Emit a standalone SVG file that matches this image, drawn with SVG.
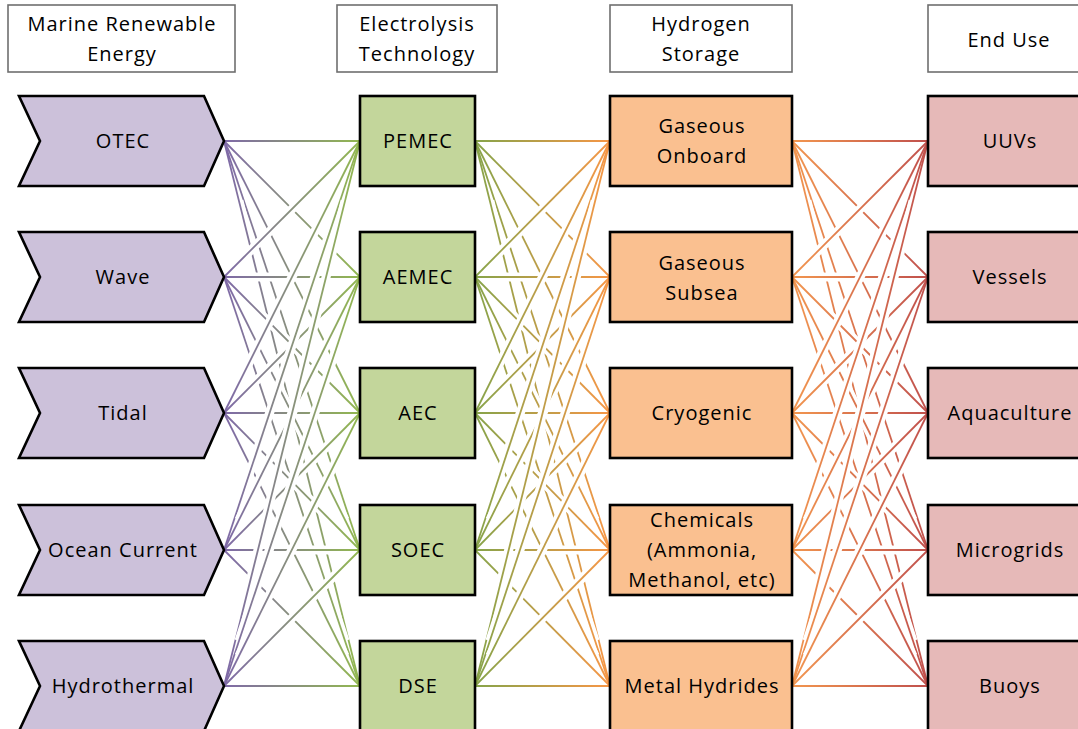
<svg xmlns="http://www.w3.org/2000/svg" width="1078" height="729" viewBox="0 0 1078 729">
<style>
.hdr{fill:#fff;stroke:#6f6f6f;stroke-width:1.6}
.nd{stroke:#000;stroke-width:2.6}
.src{fill:#ccc1da}.ely{fill:#c3d69b}.sto{fill:#fac090}.use{fill:#e6b9b8}
text{font-family:"Open Sans","Liberation Sans",sans-serif;font-size:20px;letter-spacing:1px;fill:#000;text-anchor:middle}
.cn path{fill:none;stroke-width:1.8}
.cn path.h{stroke:#fff;stroke-width:9;stroke-dasharray:0 11 78 11}
</style>
<defs>
<linearGradient id="g1" gradientUnits="userSpaceOnUse" x1="224" y1="0" x2="360" y2="0"><stop offset="0" stop-color="#7f69a8"/><stop offset="1" stop-color="#92b850"/></linearGradient>
<linearGradient id="g2" gradientUnits="userSpaceOnUse" x1="475" y1="0" x2="610" y2="0"><stop offset="0" stop-color="#86a44a"/><stop offset="1" stop-color="#f79646"/></linearGradient>
<linearGradient id="g3" gradientUnits="userSpaceOnUse" x1="792" y1="0" x2="928" y2="0"><stop offset="0" stop-color="#f2964f"/><stop offset="1" stop-color="#c0504d"/></linearGradient>
</defs>

<g id="headers">
<g id="h-mre"><rect class="hdr" x="8" y="5" width="227" height="67"/><text x="122" y="31">Marine Renewable</text><text x="122" y="61">Energy</text></g>
<g id="h-ely"><rect class="hdr" x="337" y="5" width="160" height="67"/><text x="417" y="31">Electrolysis</text><text x="417" y="61">Technology</text></g>
<g id="h-sto"><rect class="hdr" x="610" y="5" width="182" height="67"/><text x="701" y="31">Hydrogen</text><text x="701" y="61">Storage</text></g>
<g id="h-use"><rect class="hdr" x="928" y="5" width="162" height="67"/><text x="1009" y="47">End Use</text></g>
</g>

<g id="connectors" class="cn">
<g id="c-src-ely" stroke="url(#g1)">
<path class="h" pathLength="100" d="M224 141L360 141"/><path d="M224 141L360 141"/>
<path class="h" pathLength="100" d="M224 141L360 277"/><path d="M224 141L360 277"/>
<path class="h" pathLength="100" d="M224 141L360 413"/><path d="M224 141L360 413"/>
<path class="h" pathLength="100" d="M224 141L360 550"/><path d="M224 141L360 550"/>
<path class="h" pathLength="100" d="M224 141L360 686"/><path d="M224 141L360 686"/>
<path class="h" pathLength="100" d="M224 277L360 141"/><path d="M224 277L360 141"/>
<path class="h" pathLength="100" d="M224 277L360 277"/><path d="M224 277L360 277"/>
<path class="h" pathLength="100" d="M224 277L360 413"/><path d="M224 277L360 413"/>
<path class="h" pathLength="100" d="M224 277L360 550"/><path d="M224 277L360 550"/>
<path class="h" pathLength="100" d="M224 277L360 686"/><path d="M224 277L360 686"/>
<path class="h" pathLength="100" d="M224 413L360 141"/><path d="M224 413L360 141"/>
<path class="h" pathLength="100" d="M224 413L360 277"/><path d="M224 413L360 277"/>
<path class="h" pathLength="100" d="M224 413L360 413"/><path d="M224 413L360 413"/>
<path class="h" pathLength="100" d="M224 413L360 550"/><path d="M224 413L360 550"/>
<path class="h" pathLength="100" d="M224 413L360 686"/><path d="M224 413L360 686"/>
<path class="h" pathLength="100" d="M224 550L360 141"/><path d="M224 550L360 141"/>
<path class="h" pathLength="100" d="M224 550L360 277"/><path d="M224 550L360 277"/>
<path class="h" pathLength="100" d="M224 550L360 413"/><path d="M224 550L360 413"/>
<path class="h" pathLength="100" d="M224 550L360 550"/><path d="M224 550L360 550"/>
<path class="h" pathLength="100" d="M224 550L360 686"/><path d="M224 550L360 686"/>
<path class="h" pathLength="100" d="M224 686L360 141"/><path d="M224 686L360 141"/>
<path class="h" pathLength="100" d="M224 686L360 277"/><path d="M224 686L360 277"/>
<path class="h" pathLength="100" d="M224 686L360 413"/><path d="M224 686L360 413"/>
<path class="h" pathLength="100" d="M224 686L360 550"/><path d="M224 686L360 550"/>
<path class="h" pathLength="100" d="M224 686L360 686"/><path d="M224 686L360 686"/>
</g>
<g id="c-ely-sto" stroke="url(#g2)">
<path class="h" pathLength="100" d="M475 141L610 141"/><path d="M475 141L610 141"/>
<path class="h" pathLength="100" d="M475 141L610 277"/><path d="M475 141L610 277"/>
<path class="h" pathLength="100" d="M475 141L610 413"/><path d="M475 141L610 413"/>
<path class="h" pathLength="100" d="M475 141L610 550"/><path d="M475 141L610 550"/>
<path class="h" pathLength="100" d="M475 141L610 686"/><path d="M475 141L610 686"/>
<path class="h" pathLength="100" d="M475 277L610 141"/><path d="M475 277L610 141"/>
<path class="h" pathLength="100" d="M475 277L610 277"/><path d="M475 277L610 277"/>
<path class="h" pathLength="100" d="M475 277L610 413"/><path d="M475 277L610 413"/>
<path class="h" pathLength="100" d="M475 277L610 550"/><path d="M475 277L610 550"/>
<path class="h" pathLength="100" d="M475 277L610 686"/><path d="M475 277L610 686"/>
<path class="h" pathLength="100" d="M475 413L610 141"/><path d="M475 413L610 141"/>
<path class="h" pathLength="100" d="M475 413L610 277"/><path d="M475 413L610 277"/>
<path class="h" pathLength="100" d="M475 413L610 413"/><path d="M475 413L610 413"/>
<path class="h" pathLength="100" d="M475 413L610 550"/><path d="M475 413L610 550"/>
<path class="h" pathLength="100" d="M475 413L610 686"/><path d="M475 413L610 686"/>
<path class="h" pathLength="100" d="M475 550L610 141"/><path d="M475 550L610 141"/>
<path class="h" pathLength="100" d="M475 550L610 277"/><path d="M475 550L610 277"/>
<path class="h" pathLength="100" d="M475 550L610 413"/><path d="M475 550L610 413"/>
<path class="h" pathLength="100" d="M475 550L610 550"/><path d="M475 550L610 550"/>
<path class="h" pathLength="100" d="M475 550L610 686"/><path d="M475 550L610 686"/>
<path class="h" pathLength="100" d="M475 686L610 141"/><path d="M475 686L610 141"/>
<path class="h" pathLength="100" d="M475 686L610 277"/><path d="M475 686L610 277"/>
<path class="h" pathLength="100" d="M475 686L610 413"/><path d="M475 686L610 413"/>
<path class="h" pathLength="100" d="M475 686L610 550"/><path d="M475 686L610 550"/>
<path class="h" pathLength="100" d="M475 686L610 686"/><path d="M475 686L610 686"/>
</g>
<g id="c-sto-use" stroke="url(#g3)">
<path class="h" pathLength="100" d="M792 141L928 141"/><path d="M792 141L928 141"/>
<path class="h" pathLength="100" d="M792 141L928 277"/><path d="M792 141L928 277"/>
<path class="h" pathLength="100" d="M792 141L928 413"/><path d="M792 141L928 413"/>
<path class="h" pathLength="100" d="M792 141L928 550"/><path d="M792 141L928 550"/>
<path class="h" pathLength="100" d="M792 141L928 686"/><path d="M792 141L928 686"/>
<path class="h" pathLength="100" d="M792 277L928 141"/><path d="M792 277L928 141"/>
<path class="h" pathLength="100" d="M792 277L928 277"/><path d="M792 277L928 277"/>
<path class="h" pathLength="100" d="M792 277L928 413"/><path d="M792 277L928 413"/>
<path class="h" pathLength="100" d="M792 277L928 550"/><path d="M792 277L928 550"/>
<path class="h" pathLength="100" d="M792 277L928 686"/><path d="M792 277L928 686"/>
<path class="h" pathLength="100" d="M792 413L928 141"/><path d="M792 413L928 141"/>
<path class="h" pathLength="100" d="M792 413L928 277"/><path d="M792 413L928 277"/>
<path class="h" pathLength="100" d="M792 413L928 413"/><path d="M792 413L928 413"/>
<path class="h" pathLength="100" d="M792 413L928 550"/><path d="M792 413L928 550"/>
<path class="h" pathLength="100" d="M792 413L928 686"/><path d="M792 413L928 686"/>
<path class="h" pathLength="100" d="M792 550L928 141"/><path d="M792 550L928 141"/>
<path class="h" pathLength="100" d="M792 550L928 277"/><path d="M792 550L928 277"/>
<path class="h" pathLength="100" d="M792 550L928 413"/><path d="M792 550L928 413"/>
<path class="h" pathLength="100" d="M792 550L928 550"/><path d="M792 550L928 550"/>
<path class="h" pathLength="100" d="M792 550L928 686"/><path d="M792 550L928 686"/>
<path class="h" pathLength="100" d="M792 686L928 141"/><path d="M792 686L928 141"/>
<path class="h" pathLength="100" d="M792 686L928 277"/><path d="M792 686L928 277"/>
<path class="h" pathLength="100" d="M792 686L928 413"/><path d="M792 686L928 413"/>
<path class="h" pathLength="100" d="M792 686L928 550"/><path d="M792 686L928 550"/>
<path class="h" pathLength="100" d="M792 686L928 686"/><path d="M792 686L928 686"/>
</g>
</g>

<g id="n-otec"><path class="nd src" d="M19 96H204L224 141L204 186H19L40 141Z"/><text x="123" y="148">OTEC</text></g>
<g id="n-wave"><path class="nd src" d="M19 232H204L224 277L204 322H19L40 277Z"/><text x="123" y="284">Wave</text></g>
<g id="n-tidal"><path class="nd src" d="M19 368H204L224 413L204 458H19L40 413Z"/><text x="123" y="420">Tidal</text></g>
<g id="n-ocean"><path class="nd src" d="M19 505H204L224 550L204 595H19L40 550Z"/><text x="123" y="557">Ocean Current</text></g>
<g id="n-hydro"><path class="nd src" d="M19 641H204L224 686L204 731H19L40 686Z"/><text x="123" y="693">Hydrothermal</text></g>

<g id="n-pemec"><rect class="nd ely" x="360" y="96" width="115" height="90"/><text x="418" y="148">PEMEC</text></g>
<g id="n-aemec"><rect class="nd ely" x="360" y="232" width="115" height="90"/><text x="418" y="284">AEMEC</text></g>
<g id="n-aec"><rect class="nd ely" x="360" y="368" width="115" height="90"/><text x="418" y="420">AEC</text></g>
<g id="n-soec"><rect class="nd ely" x="360" y="505" width="115" height="90"/><text x="418" y="557">SOEC</text></g>
<g id="n-dse"><rect class="nd ely" x="360" y="641" width="115" height="90"/><text x="418" y="693">DSE</text></g>

<g id="n-gonb"><rect class="nd sto" x="610" y="96" width="182" height="90"/><text x="702" y="133">Gaseous</text><text x="702" y="163">Onboard</text></g>
<g id="n-gsub"><rect class="nd sto" x="610" y="232" width="182" height="90"/><text x="702" y="270">Gaseous</text><text x="702" y="300">Subsea</text></g>
<g id="n-cryo"><rect class="nd sto" x="610" y="368" width="182" height="90"/><text x="702" y="420">Cryogenic</text></g>
<g id="n-chem"><rect class="nd sto" x="610" y="505" width="182" height="90"/><text x="702" y="527">Chemicals</text><text x="702" y="557">(Ammonia,</text><text x="702" y="587">Methanol, etc)</text></g>
<g id="n-mh"><rect class="nd sto" x="610" y="641" width="182" height="90"/><text x="702" y="693">Metal Hydrides</text></g>

<g id="n-uuv"><rect class="nd use" x="928" y="96" width="164" height="90"/><text x="1010" y="148">UUVs</text></g>
<g id="n-ves"><rect class="nd use" x="928" y="232" width="164" height="90"/><text x="1010" y="284">Vessels</text></g>
<g id="n-aqua"><rect class="nd use" x="928" y="368" width="164" height="90"/><text x="1010" y="420">Aquaculture</text></g>
<g id="n-micro"><rect class="nd use" x="928" y="505" width="164" height="90"/><text x="1010" y="557">Microgrids</text></g>
<g id="n-buoy"><rect class="nd use" x="928" y="641" width="164" height="90"/><text x="1010" y="693">Buoys</text></g>
</svg>
